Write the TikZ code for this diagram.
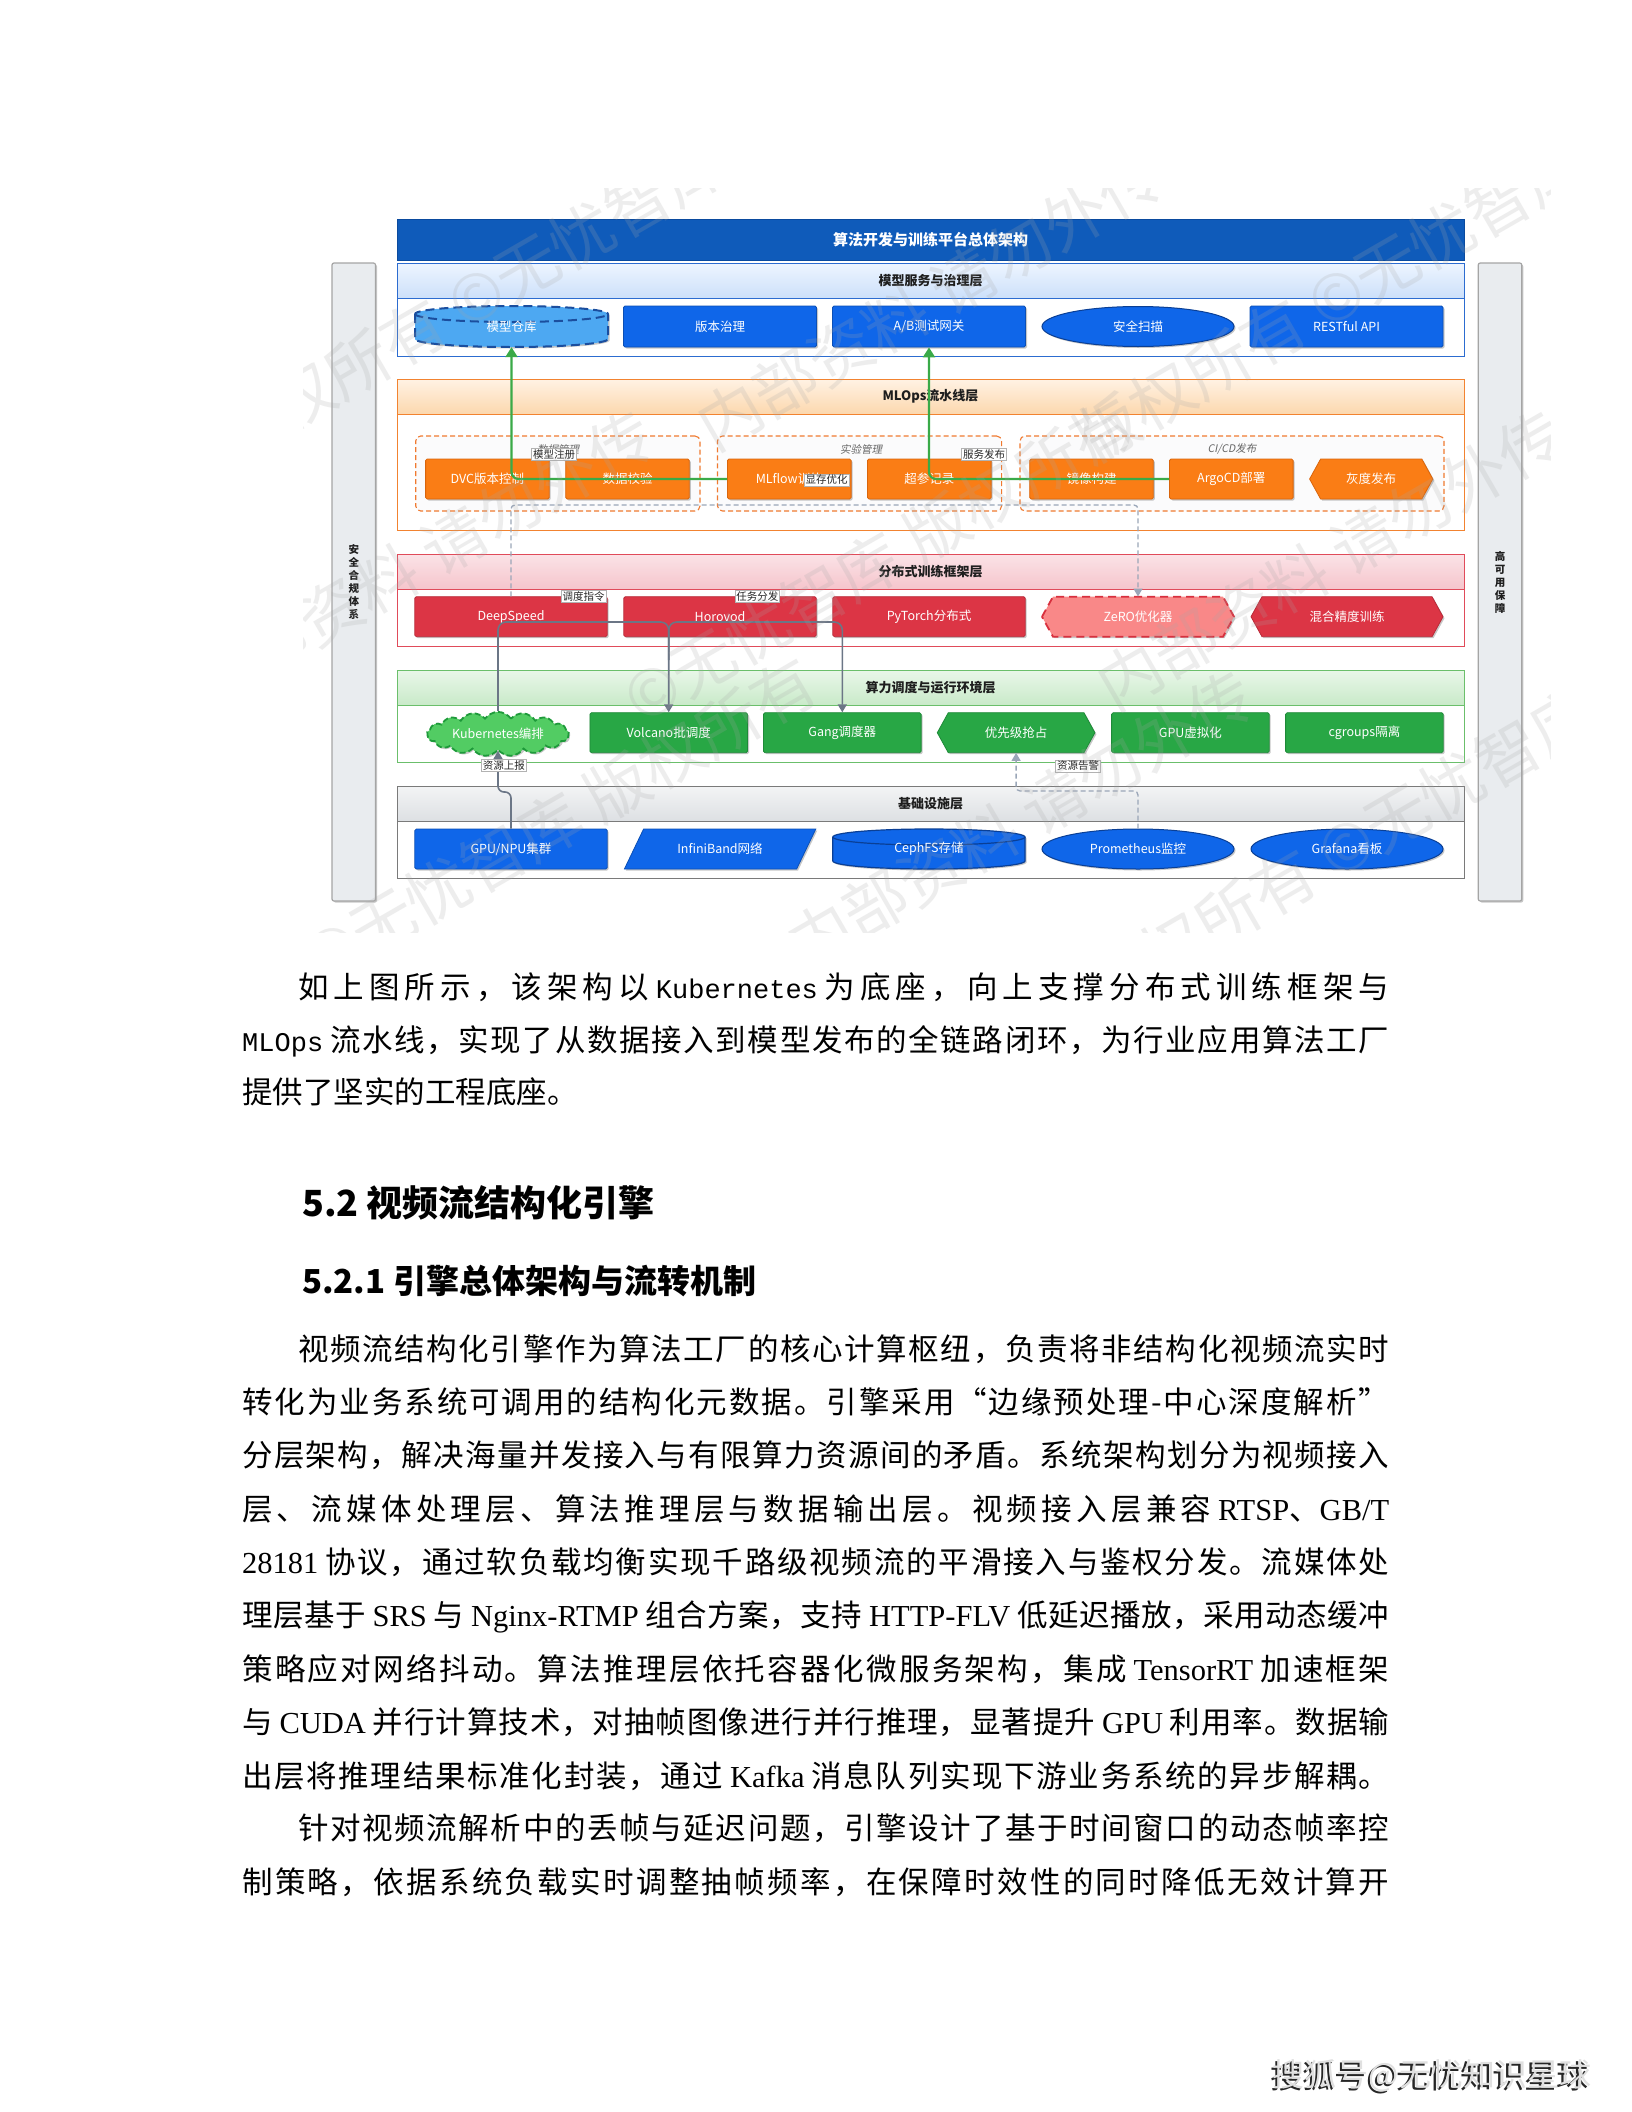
\documentclass[tikz,border=0pt]{standalone}
\usepackage{fontspec}
\setmainfont{Noto Sans CJK SC}
\newfontfamily\lmono{Liberation Mono}
\newfontfamily\lserif{Liberation Serif}
\newfontfamily\cjkit[FakeSlant=0.2]{Noto Sans CJK SC}
\usetikzlibrary{shapes.geometric,shapes.symbols,arrows.meta,shadows}

\XeTeXinterchartokenstate=1
\newcount\cjkcnt
\cjkcnt="3000 \loop\XeTeXcharclass\cjkcnt=7 \advance\cjkcnt by 1 \ifnum\cjkcnt<"3040 \repeat
\cjkcnt="4E00 \loop\XeTeXcharclass\cjkcnt=7 \advance\cjkcnt by 1 \ifnum\cjkcnt<"A000 \repeat
\cjkcnt="FF00 \loop\XeTeXcharclass\cjkcnt=7 \advance\cjkcnt by 1 \ifnum\cjkcnt<"FFF0 \repeat
\XeTeXinterchartoks 7 7 = {\hskip 0pt plus 1fil\relax}
\XeTeXinterchartoks 0 7 = {\hskip 0pt plus 1fil\relax}
\XeTeXinterchartoks 7 0 = {\hskip 0pt plus 1fil\relax}

\definecolor{titleblue}{HTML}{0F5BBA}
\definecolor{titlebd}{HTML}{0A4A9E}
\definecolor{l1bd}{HTML}{2C6CD0}
\definecolor{l1top}{HTML}{EEF5FF}
\definecolor{l1bot}{HTML}{CCE0FA}
\definecolor{nblue}{HTML}{0F66E9}
\definecolor{nbluebd}{HTML}{0B4FB5}
\definecolor{ellbd}{HTML}{0A3F95}
\definecolor{repofill}{HTML}{4DA8F2}
\definecolor{repobd}{HTML}{1B4E9E}
\definecolor{l2bd}{HTML}{F28330}
\definecolor{l2top}{HTML}{FFF2E4}
\definecolor{l2bot}{HTML}{FCD8AE}
\definecolor{norange}{HTML}{FA7D15}
\definecolor{norangebd}{HTML}{D9650C}
\definecolor{grpbd}{HTML}{F07A30}
\definecolor{grpfill}{HTML}{FBFBFC}
\definecolor{l3bd}{HTML}{E04B5A}
\definecolor{l3top}{HTML}{FBE3E7}
\definecolor{l3bot}{HTML}{F5C5CC}
\definecolor{nred}{HTML}{DC3545}
\definecolor{nredbd}{HTML}{B82A38}
\definecolor{zerofill}{HTML}{F98888}
\definecolor{zerobd}{HTML}{D8303E}
\definecolor{l4bd}{HTML}{6BBF6B}
\definecolor{l4top}{HTML}{E9F7E9}
\definecolor{l4bot}{HTML}{C9EAC9}
\definecolor{ngreen}{HTML}{28A745}
\definecolor{ngreenbd}{HTML}{1E8A38}
\definecolor{k8sfill}{HTML}{52CC63}
\definecolor{k8sbd}{HTML}{1E9A3A}
\definecolor{l5bd}{HTML}{7A7A7A}
\definecolor{l5top}{HTML}{F3F4F5}
\definecolor{l5bot}{HTML}{DDE0E3}
\definecolor{sidefill}{HTML}{E9ECEF}
\definecolor{sidebd}{HTML}{A5A5A5}
\definecolor{arrgreen}{HTML}{3AAA48}
\definecolor{arrgray}{HTML}{6B7686}
\definecolor{dashgray}{HTML}{9AA6B8}
\definecolor{headtxt}{HTML}{1E1E1E}
\definecolor{grouptxt}{HTML}{666666}

\tikzset{
 shad/.style={drop shadow={shadow xshift=1.5pt,shadow yshift=-1.5pt,opacity=0.22,fill=black}},
 ntext/.style={inner sep=0pt,text=white,font=\fontsize{12.5}{14}\selectfont},
 rbox/.style={ntext,rectangle,rounded corners=1.5pt,line width=0.8pt,shad},
 bluerect/.style={rbox,fill=nblue,draw=nbluebd,minimum width=193,minimum height=41},
 orangerect/.style={rbox,fill=norange,draw=norangebd,minimum width=123.6,minimum height=40},
 redrect/.style={rbox,fill=nred,draw=nredbd,minimum width=192.4,minimum height=40},
 greenrect/.style={rbox,fill=ngreen,draw=ngreenbd,minimum width=157.6,minimum height=40},
 blueell/.style={ntext,ellipse,fill=nblue,draw=ellbd,line width=1pt,minimum width=192,minimum height=40,shad},
 lhead/.style={rectangle,inner sep=0pt,minimum width=1067,minimum height=35,line width=1pt,text=headtxt,font=\fontsize{13}{15}\selectfont\bfseries},
 lbody/.style={rectangle,inner sep=0pt,minimum width=1067,fill=white,line width=1pt},
 grp/.style={rectangle,rounded corners=5pt,draw=grpbd,fill=grpfill,line width=1.1pt,dash pattern=on 5pt off 3pt,minimum height=75},
 grplab/.style={inner sep=0pt,text=grouptxt,font=\fontsize{10.5}{12}\cjkit},
 elab/.style={inner sep=1.3pt,fill=white,draw=gray!60,line width=0.6pt,text=black!85,font=\fontsize{10.5}{12}\selectfont},
 garrow/.style={draw=arrgreen,line width=2.2pt,rounded corners=7pt,-{Triangle[length=10pt,width=12pt]}},
 gline/.style={draw=arrgray,line width=1.6pt,rounded corners=8pt,-{Triangle[length=8pt,width=9pt]}},
 dline/.style={draw=dashgray,line width=1.3pt,dash pattern=on 5pt off 3pt,rounded corners=4pt,-{Triangle[length=8pt,width=9pt]}},
 sidebar/.style={rectangle,rounded corners=2pt,fill=sidefill,draw=sidebd,line width=1.2pt,minimum width=43.5,minimum height=638,inner sep=0pt,align=center,text=headtxt,font=\fontsize{10.5}{13}\selectfont\bfseries,shad},
 bodyline/.style={inner sep=0pt,anchor=base west,text=black,font=\fontsize{30.5}{36}\selectfont},
 sechead/.style={inner sep=0pt,anchor=base west,text=black},
 wm/.style={inner sep=0pt,rotate=30,text=gray!70,opacity=0.2,font=\fontsize{64}{68}\selectfont},
}

% hexagon: name cx cy w h style text
\newcommand\hexbox[7]{%
 \pgfmathsetmacro\hxa{#2-#4/2}\pgfmathsetmacro\hxb{#2-#4/2+11}%
 \pgfmathsetmacro\hxc{#2+#4/2-11}\pgfmathsetmacro\hxd{#2+#4/2}%
 \pgfmathsetmacro\hya{#3-#5/2}\pgfmathsetmacro\hyb{#3+#5/2}%
 \path[#6,shad] (\hxa,#3) -- (\hxb,\hya) -- (\hxc,\hya) -- (\hxd,#3) -- (\hxc,\hyb) -- (\hxb,\hyb) -- cycle;
 \node[ntext,minimum width=#4,minimum height=#5] (#1) at (#2,#3) {#7};}
% flat cylinder: name cx cy w h style text
\newcommand\cylbox[7]{%
 \pgfmathsetmacro\cxa{#2-#4/2}\pgfmathsetmacro\cxb{#2+#4/2}%
 \pgfmathsetmacro\cya{#3-#5/2+8}\pgfmathsetmacro\cyb{#3+#5/2-8}\pgfmathsetmacro\crx{#4/2}%
 \path[#6,shad] (\cxa,\cya) -- (\cxa,\cyb) arc[start angle=180,end angle=360,x radius=\crx pt,y radius=8pt] -- (\cxb,\cya) arc[start angle=0,end angle=180,x radius=\crx pt,y radius=8pt] -- cycle;
 \path[#6,fill=none] (\cxa,\cya) arc[start angle=180,end angle=360,x radius=\crx pt,y radius=8pt];
 \node[ntext,minimum width=#4,minimum height=#5] (#1) at (#2,#3) {#7};}

\begin{document}
\begin{tikzpicture}[x=1pt,y=-1pt]
\fill[white] (0,0) rectangle (1632,2112);
\useasboundingbox (0,0) rectangle (1632,2112);

% ---------- title and side bars
\node[rectangle,inner sep=0pt,minimum width=1067,minimum height=41,fill=titleblue,draw=titlebd,line width=1pt,text=white,font=\fontsize{15}{17}\selectfont\bfseries] (title) at (930.5,239.5) {算法开发与训练平台总体架构};
\node[sidebar] (secbar) at (353.75,582) {安\\全\\合\\规\\体\\系};
\node[sidebar] (habar) at (1500,582) {高\\可\\用\\保\\障};

% ---------- layers
\node[lbody,draw=l1bd,minimum height=58] (b1) at (930.5,327) {};
\node[lhead,draw=l1bd,top color=l1top,bottom color=l1bot] (h1) at (930.5,280.5) {模型服务与治理层};
\node[lbody,draw=l2bd,minimum height=116] (b2) at (930.5,472) {};
\node[lhead,draw=l2bd,top color=l2top,bottom color=l2bot] (h2) at (930.5,396.5) {MLOps流水线层};
\node[lbody,draw=l3bd,minimum height=57] (b3) at (930.5,617.5) {};
\node[lhead,draw=l3bd,top color=l3top,bottom color=l3bot] (h3) at (930.5,571.5) {分布式训练框架层};
\node[lbody,draw=l4bd,minimum height=57] (b4) at (930.5,733.5) {};
\node[lhead,draw=l4bd,top color=l4top,bottom color=l4bot] (h4) at (930.5,687.5) {算力调度与运行环境层};
\node[lbody,draw=l5bd,minimum height=57] (b5) at (930.5,849.5) {};
\node[lhead,draw=l5bd,top color=l5top,bottom color=l5bot] (h5) at (930.5,803.5) {基础设施层};

% ---------- layer 1
\cylbox{repo}{511.5}{326.5}{193}{41}{fill=repofill,draw=repobd,line width=2pt,dash pattern=on 9pt off 5pt}{模型仓库}
\node[bluerect] (ver) at (720,326.5) {版本治理};
\node[bluerect] (ab) at (929,326.5) {A/B测试网关};
\node[blueell] (sec) at (1138,326.5) {安全扫描};
\node[bluerect] (api) at (1346.5,326.5) {RESTful API};

% ---------- layer 2
\node[grp,minimum width=284.3] (g1) at (557.85,473.5) {};
\node[grp,minimum width=284.1] (g2) at (859.55,473.5) {};
\node[grp,minimum width=424] (g3) at (1232,473.5) {};
\node[grplab] (g1lab) at (558,449) {数据管理};
\node[grplab] (g2lab) at (861,449) {实验管理};
\node[grplab] (g3lab) at (1232,449) {CI/CD发布};
\node[orangerect] (dvc) at (487.4,479) {DVC版本控制};
\node[orangerect] (chk) at (627.5,479) {数据校验};
\node[orangerect] (mlf) at (789.3,479) {MLflow训练};
\node[orangerect] (hyp) at (929.3,479) {超参记录};
\node[orangerect] (img) at (1091.5,479) {镜像构建};
\node[orangerect] (argo) at (1231.3,479) {ArgoCD部署};
\hexbox{canary}{1371.2}{479}{123.2}{40}{fill=norange,draw=norangebd,line width=0.8pt}{灰度发布}

% ---------- layer 3
\node[redrect] (ds) at (511,616.7) {DeepSpeed};
\node[redrect] (hvd) at (720,616.7) {Horovod};
\node[redrect] (torch) at (929,616.7) {PyTorch分布式};
\hexbox{zero}{1138}{616.7}{192}{40}{fill=zerofill,draw=zerobd,line width=1.8pt,dash pattern=on 8pt off 5pt}{ZeRO优化器}
\hexbox{amp}{1347}{616.7}{192}{40}{fill=nred,draw=nredbd,line width=0.8pt}{混合精度训练}

% ---------- layer 4
\node[cloud,cloud puffs=17,cloud puff arc=110,aspect=4,minimum width=142,minimum height=35,inner sep=0pt,fill=k8sfill,draw=k8sbd,line width=1.8pt,dash pattern=on 6pt off 3pt,text=white,font=\fontsize{12.5}{14}\selectfont,shad] (k8s) at (498,734) {Kubernetes编排};
\node[greenrect] (volc) at (668.7,732.7) {Volcano批调度};
\node[greenrect] (gang) at (842.3,732.7) {Gang调度器};
\hexbox{prio}{1016.1}{732.7}{157.6}{40}{fill=ngreen,draw=ngreenbd,line width=0.8pt}{优先级抢占}
\node[greenrect] (gpuv) at (1190.4,732.7) {GPU虚拟化};
\node[greenrect] (cg) at (1364.4,732.7) {cgroups隔离};

% ---------- layer 5
\node[bluerect,minimum width=192.4,minimum height=40] (gpu) at (511,849) {GPU/NPU集群};
\path[fill=nblue,draw=nbluebd,line width=0.8pt,shad] (624.4,869) -- (643.6,829) -- (815.8,829) -- (796.6,869) -- cycle;
\node[ntext,minimum width=192,minimum height=40] (ib) at (720,849) {InfiniBand网络};
\cylbox{ceph}{928.9}{849}{192.2}{40}{fill=nblue,draw=ellbd,line width=1.2pt}{CephFS存储}
\node[blueell] (prom) at (1138,849) {Prometheus监控};
\node[blueell] (graf) at (1347,849) {Grafana看板};

% ---------- connectors
\coordinate (j1) at (668.7,622);
\coordinate (j2) at (668.7,660);
\draw[gline] (k8s.north) |- (j1) -- (volc.north);
\draw[gline] (j2) -- (j1) -| (gang.north);
\coordinate (r1) at (498,792);
\draw[gline,rounded corners=6pt] (gpu.north) |- (r1) -- (k8s.south);
\coordinate (d1) at (800,505);
\draw[dline] (ds.north) |- (d1) -| (zero.north);
\coordinate (d2) at (1080,791);
\draw[dline] (prom.north) |- (d2) -| (prio.south);
\draw[garrow] (mlf.west) -| (repo.south);
\draw[garrow] (argo.west) -| (ab.south);

% ---------- connector labels
\node[elab] (lab1) at (554,454.5) {模型注册};
\node[elab] (lab2) at (826.5,480) {显存优化};
\node[elab] (lab3) at (984,454) {服务发布};
\node[elab] (lab4) at (583.5,596.5) {调度指令};
\node[elab] (lab5) at (757.4,596.5) {任务分发};
\node[elab] (lab6) at (503.8,765.5) {资源上报};
\node[elab] (lab7) at (1078,766) {资源告警};

% ---------- faint watermark over the figure
\begin{scope}
\clip (303,188) rectangle (1550,932);
\node[wm] (wm1) at (470,300) {版权所有 ©无忧智库};
\node[wm] (wm2) at (930,300) {内部资料 请勿外传};
\node[wm] (wm3) at (1330,300) {版权所有 ©无忧智库};
\node[wm] (wm4) at (420,560) {内部资料 请勿外传};
\node[wm] (wm5) at (880,560) {©无忧智库 版权所有};
\node[wm] (wm6) at (1330,560) {内部资料 请勿外传};
\node[wm] (wm7) at (560,820) {©无忧智库 版权所有};
\node[wm] (wm8) at (1020,820) {内部资料 请勿外传};
\node[wm] (wm9) at (1340,850) {版权所有 ©无忧智库};
\end{scope}

% ---------- body text
\node[bodyline] (p1a) at (298,998) {\makebox[1091pt][s]{如上图所示，该架构以 {\fontsize{27}{30}\lmono Kubernetes} 为底座，向上支撑分布式训练框架与}};
\node[bodyline] (p1b) at (242,1051) {\makebox[1147pt][s]{{\fontsize{27}{30}\lmono MLOps} 流水线，实现了从数据接入到模型发布的全链路闭环，为行业应用算法工厂}};
\node[bodyline] (p1c) at (242,1103) {提供了坚实的工程底座。};

\node[sechead,font=\fontsize{36}{40}\selectfont\bfseries] (sec52) at (302,1216) {5.2 视频流结构化引擎};
\node[sechead,font=\fontsize{33}{36}\selectfont\bfseries] (sec521) at (302,1293) {5.2.1 引擎总体架构与流转机制};

\node[bodyline] (p2a) at (298,1360) {\makebox[1091pt][s]{视频流结构化引擎作为算法工厂的核心计算枢纽，负责将非结构化视频流实时}};
\node[bodyline] (p2b) at (242,1413) {\makebox[1147pt][s]{转化为业务系统可调用的结构化元数据。引擎采用“边缘预处理-中心深度解析”}};
\node[bodyline] (p2c) at (242,1466) {\makebox[1147pt][s]{分层架构，解决海量并发接入与有限算力资源间的矛盾。系统架构划分为视频接入}};
\node[bodyline] (p2d) at (242,1520) {\makebox[1147pt][s]{层、流媒体处理层、算法推理层与数据输出层。视频接入层兼容 {\lserif RTSP}、{\lserif GB/T}}};
\node[bodyline] (p2e) at (242,1573) {\makebox[1147pt][s]{{\lserif 28181} 协议，通过软负载均衡实现千路级视频流的平滑接入与鉴权分发。流媒体处}};
\node[bodyline] (p2f) at (242,1626) {\makebox[1147pt][s]{理层基于 {\lserif SRS} 与 {\lserif Nginx-RTMP} 组合方案，支持 {\lserif HTTP-FLV} 低延迟播放，采用动态缓冲}};
\node[bodyline] (p2g) at (242,1680) {\makebox[1147pt][s]{策略应对网络抖动。算法推理层依托容器化微服务架构，集成 {\lserif TensorRT} 加速框架}};
\node[bodyline] (p2h) at (242,1733) {\makebox[1147pt][s]{与 {\lserif CUDA} 并行计算技术，对抽帧图像进行并行推理，显著提升 {\lserif GPU} 利用率。数据输}};
\node[bodyline] (p2i) at (242,1787) {\makebox[1147pt][s]{出层将推理结果标准化封装，通过 {\lserif Kafka} 消息队列实现下游业务系统的异步解耦。}};
\node[bodyline] (p3a) at (298,1839) {\makebox[1091pt][s]{针对视频流解析中的丢帧与延迟问题，引擎设计了基于时间窗口的动态帧率控}};
\node[bodyline] (p3b) at (242,1893) {\makebox[1147pt][s]{制策略，依据系统负载实时调整抽帧频率，在保障时效性的同时降低无效计算开}};

% ---------- footer mark
\node[inner sep=0pt,text=black!85,font=\fontsize{32}{34}\selectfont] (footsh) at (1429.5,2077.5) {搜狐号@无忧知识星球};
\node[inner sep=0pt,text=black!12,font=\fontsize{32}{34}\selectfont] (foot) at (1432,2076) {搜狐号@无忧知识星球};
\end{tikzpicture}
\end{document}
